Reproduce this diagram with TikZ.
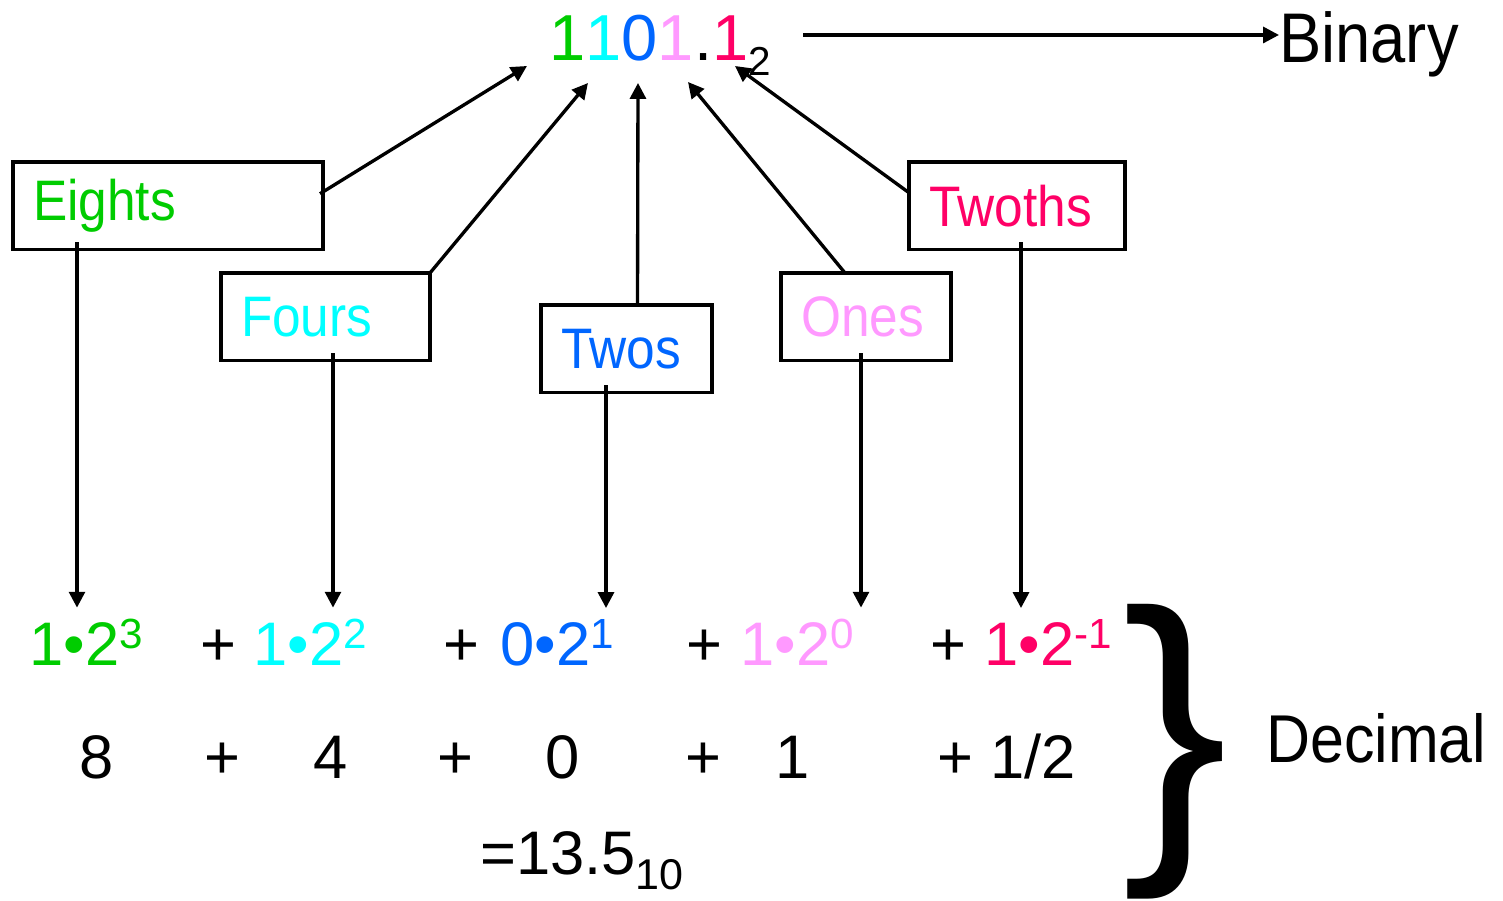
\documentclass[tikz,border=0pt]{standalone}
\usepackage{fontspec}
\setmainfont{Liberation Sans}
\newfontfamily\wordfont{Liberation Sans}[FakeStretch=0.9]
\usetikzlibrary{arrows.meta,calc}
\definecolor{eightc}{HTML}{00CC00}
\definecolor{fourc}{HTML}{00FFFF}
\definecolor{twoc}{HTML}{0066FF}
\definecolor{onec}{HTML}{FF99FF}
\definecolor{halfc}{HTML}{FF0066}
\newcommand{\fs}[1]{\fontsize{#1}{#1}\selectfont}
\newcommand{\bitterm}[3]{\color{#1}#2•2\raisebox{10pt}{\fs{24}#3}}
\begin{document}
\begin{tikzpicture}[x=0.2mm, y=0.2mm,
    arr/.style={line width=1.9pt, -{Triangle[length=9pt,width=9pt]}},
    lblbox/.style={draw, line width=1.9pt, outer sep=0pt, anchor=north west,
        minimum height=17.5mm, inner xsep=4mm, inner ysep=0pt,
        text width=#1, align=left, font=\wordfont\fs{32.5}},
    sumtext/.style={anchor=base west, inner sep=0pt, font=\fs{35}},
    termtext/.style={sumtext, inner ysep=2.2mm}]
    \useasboundingbox (0,0) rectangle (1503,901);

    % Binary number
    \node[anchor=base west, inner sep=0pt, font=\fs{37}] (bin) at (549,840)
        {\textcolor{eightc}{1}\textcolor{fourc}{1}\textcolor{twoc}{0}\textcolor{onec}{1}.\textcolor{halfc}{1}\raisebox{-8pt}{\fs{23}2}};
    \node[anchor=base west, inner sep=0pt, font=\wordfont\fs{40}] (binary) at (1279,838) {Binary};
    \draw[arr] ($(bin.base east)+(32,26)$) -- ($(binary.base west)+(0,28)$);

    % Place value boxes
    \node[lblbox=54mm] (eights) at (13,739) {\textcolor{eightc}{Eights}};
    \node[lblbox=33.8mm] (fours) at (221,628) {\textcolor{fourc}{Fours}};
    \node[lblbox=26.2mm] (twos) at (541,596) {\textcolor{twoc}{Twos}};
    \node[lblbox=26mm] (ones) at (781,628) {\textcolor{onec}{Ones}};
    \node[lblbox=35.2mm] (twoths) at (909,739) {\textcolor{halfc}{Twoths}};

    % Boxes to digits
    \draw[arr] ($(eights.east)+(-3,12)$) -- ($(bin.base west)+(-22,-5)$);
    \draw[arr] (fours.north east) -- ($(bin.base west)+(39,-22)$);
    \draw[arr] ($(twos.north)+(11,0)$) -- ($(bin.base west)+(89,-22)$);
    \draw[arr] ($(ones.north)+(-21,0)$) -- ($(bin.base west)+(139,-21)$);
    \draw[arr] ($(twoths.west)+(0,13)$) -- ($(bin.base west)+(186,-5)$);

    % Expanded sum
    \node[termtext] (t8) at (29,235) {\bitterm{eightc}{1}{3}};
    \node[termtext] (t4) at (253,235) {\bitterm{fourc}{1}{2}};
    \node[termtext] (t2) at (500,235) {\bitterm{twoc}{0}{1}};
    \node[termtext] (t1) at (740,235) {\bitterm{onec}{1}{0}};
    \node[termtext] (th) at (984,235) {\bitterm{halfc}{1}{-1}};
    \foreach \x [count=\i] in {200,443,686,930}
        \node[sumtext] (p\i) at (\x,235) {+};

    % Boxes to terms
    \foreach \b/\dx/\t in {eights/64/t8, fours/112/t4, twos/65/t2, ones/80/t1, twoths/112/th} {
        \coordinate (d-\b) at ($(\b.south west)+(\dx,7)$);
        \draw[arr] (d-\b) -- (d-\b |- \t.north);
    }

    % Values and total
    \foreach \x/\s [count=\i] in {79/8, 204/+, 313/4, 437/+, 545/0, 685/+, 775/1}
        \node[sumtext] (v\i) at (\x,122) {\s};
    \node[sumtext] (v8) at (937,122) {+ 1/2};
    \node[sumtext] (total) at (480,26) {=13.5\raisebox{-8.5pt}{\fs{24.5}10}};

    % Brace
    \node[anchor=base west, inner sep=0pt, font=\fs{180}] (brace) at (1122,67) {\}};
    \node[anchor=base west, inner sep=0pt, font=\wordfont\fs{38.5}] (decimal) at (1266,138) {Decimal};
\end{tikzpicture}
\end{document}
